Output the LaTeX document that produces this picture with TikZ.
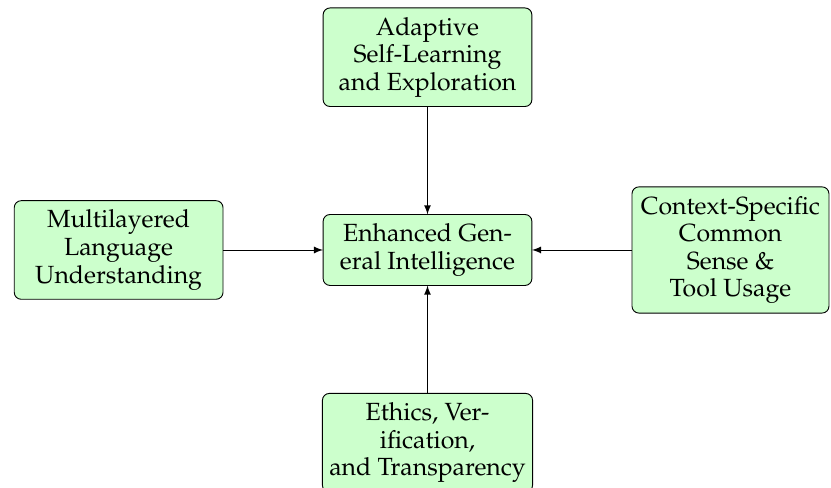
\documentclass[tikz,border=0pt]{standalone}
\usepackage[T1]{fontenc}
\usepackage{mathpazo}
\usetikzlibrary{arrows,positioning}
\tikzset{gpadded/.style={rounded corners=3, draw, fill=green!20, inner xsep=3pt, inner ysep=4pt, outer sep=0pt, align=center, minimum width=3.19cm, font=\fontsize{10.8}{12}\selectfont}}
\tikzset{arr/.style={draw, -latex, thin}}

\begin{document}
\begin{tikzpicture}
		\useasboundingbox (-6.533,-3.637) rectangle (6.166,3.820);
		\node[gpadded] (core) at (0,0){Enhanced Gen-\\eral Intelligence};
		
		\node[gpadded, above=1.65cm of core] (adapt){Adaptive\\Self-Learning\\and Exploration};
		\node[gpadded, below=1.65cm of core] (ethics){Ethics, Ver-\\ification,\\and Transparency};
		\node[gpadded, left=1.53cm of core] (lang){Multilayered\\Language\\Understanding};
		\node[gpadded, right=1.53cm of core, minimum width=3.01cm] (ctx){Context-Specific\\Common\\Sense \&\\Tool Usage};
		
		\draw[arr] (adapt) -- (core);
		\draw[arr] (lang) -- (core);
		\draw[arr] (ctx) -- (core);
		\draw[arr] (ethics) -- (core);
	\end{tikzpicture}
\end{document}
